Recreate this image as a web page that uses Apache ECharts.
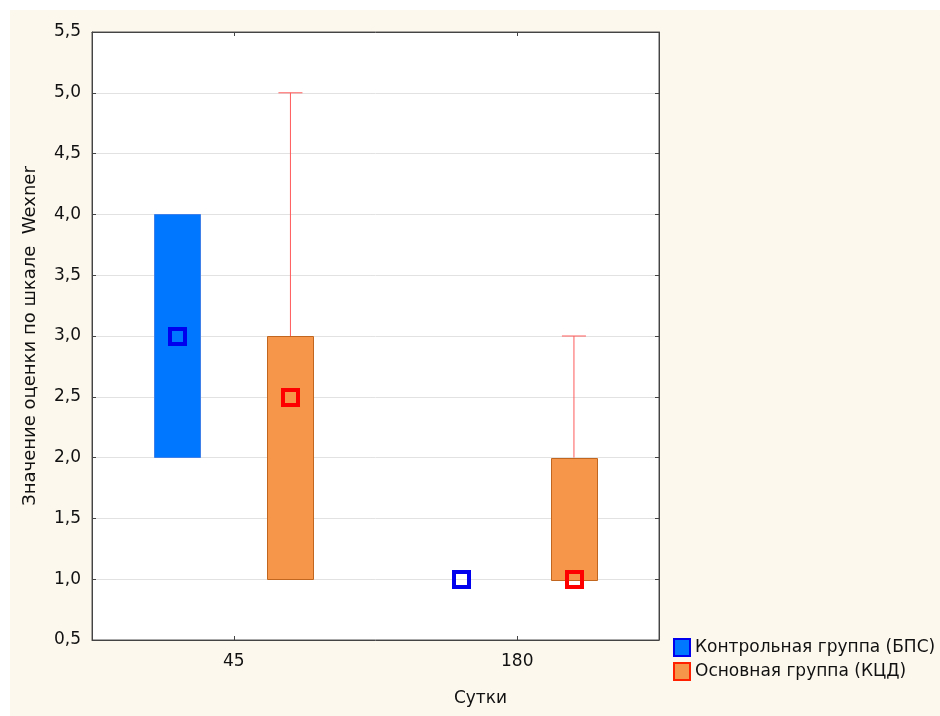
<!DOCTYPE html>
<html>
<head>
<meta charset="utf-8">
<script src="https://cdn.jsdelivr.net/npm/echarts@6/dist/echarts.min.js"></script>
<style>
  html, body { margin: 0; padding: 0; background: #ffffff; }
  #bg { position: absolute; left: 10px; top: 10px; width: 930px; height: 706px; background: #FDF8EE; }
  #c { position: absolute; left: 0; top: 0; width: 940px; height: 716px; }
</style>
</head>
<body>
<div id="bg"></div>
<div id="c"></div>
<script>
// ---- data ----
const categories = ['45', '180'];
const yTicks = [0.5, 1.0, 1.5, 2.0, 2.5, 3.0, 3.5, 4.0, 4.5, 5.0, 5.5];
const seriesNames = ['Контрольная группа (БПС)', 'Основная группа (КЦД)'];
// control group (БПС)
const controlMin    = [2, 1];
const controlQ1     = [2, 1];
const controlMedian = [3, 1];
const controlQ3     = [4, 1];
const controlMax    = [4, 1];
// main group (КЦД)
const mainMin    = [1, 1];
const mainQ1     = [1, 1];
const mainMedian = [2.5, 1];
const mainQ3     = [3, 2];
const mainMax    = [5, 3];

function buildRows(mn, q1, md, q3, mx) {
  return categories.map((c, i) => [i, mn[i], q1[i], md[i], q3[i], mx[i]]);
}

const FONT = '"DejaVu Sans", Verdana, sans-serif';
const FS = 17;

function makeRender(offsetFrac, style) {
  return function (params, api) {
    const idx = api.value(0);
    const band = api.size([1, 0])[0];
    const cx = api.coord([idx, 0])[0] + offsetFrac * band;
    const halfW = band * 0.081;
    const capHalf = 12;
    const yMin = api.coord([idx, api.value(1)])[1];
    const yQ1 = api.coord([idx, api.value(2)])[1];
    const yMed = api.coord([idx, api.value(3)])[1];
    const yQ3 = api.coord([idx, api.value(4)])[1];
    const yMax = api.coord([idx, api.value(5)])[1];
    const children = [];
    const wStyle = { stroke: style.whisker, lineWidth: 1, fill: null };
    if (api.value(5) > api.value(4)) {
      children.push({ type: 'line', shape: { x1: cx, y1: yMax, x2: cx, y2: yQ3 }, style: wStyle });
      children.push({ type: 'line', shape: { x1: cx - capHalf, y1: yMax, x2: cx + capHalf, y2: yMax }, style: wStyle });
    }
    if (api.value(1) < api.value(2)) {
      children.push({ type: 'line', shape: { x1: cx, y1: yMin, x2: cx, y2: yQ1 }, style: wStyle });
      children.push({ type: 'line', shape: { x1: cx - capHalf, y1: yMin, x2: cx + capHalf, y2: yMin }, style: wStyle });
    }
    if (api.value(4) > api.value(2)) {
      children.push({
        type: 'rect',
        shape: { x: Math.round(cx - halfW) + 0.5, y: Math.round(yQ3) + 0.5, width: Math.round(halfW * 2), height: Math.round(yQ1 - yQ3) },
        style: { fill: style.fill, stroke: style.border, lineWidth: 1 }
      });
    }
    children.push({
      type: 'rect',
      shape: { x: Math.round(cx) - 7, y: Math.round(yMed) - 7, width: 15, height: 15 },
      style: { fill: null, stroke: style.marker, lineWidth: 4 }
    });
    return { type: 'group', children: children };
  };
}

const chart = echarts.init(document.getElementById('c'), null, { renderer: 'canvas' });

const yLabelFmt = v => v.toFixed(1).replace('.', ',');

chart.setOption({
  backgroundColor: 'transparent',
  animation: false,
  textStyle: { fontFamily: FONT },
  grid: { left: 92, right: 281, top: 32, bottom: 76, show: true, backgroundColor: '#ffffff', borderColor: '#555555', borderWidth: 1 },
  legend: {
    orient: 'vertical',
    left: 673,
    top: 638,
    padding: 0,
    itemWidth: 16,
    itemHeight: 17,
    itemGap: 5,
    icon: 'rect',
    textStyle: { fontSize: FS, color: '#111111', fontFamily: FONT },
    data: [
      { name: seriesNames[0], itemStyle: { color: '#0077FF', borderColor: '#0000EE', borderWidth: 2 } },
      { name: seriesNames[1], itemStyle: { color: '#F5964A', borderColor: '#FF2000', borderWidth: 2 } }
    ]
  },
  xAxis: [
    {
      type: 'category',
      data: categories,
      position: 'bottom',
      axisLine: { show: true, lineStyle: { color: '#444444' } },
      axisTick: { show: true, inside: true, alignWithLabel: true, length: 4, lineStyle: { color: '#444444' } },
      axisLabel: { fontSize: FS, color: '#111111', margin: 13, fontFamily: FONT },
      name: 'Сутки',
      nameLocation: 'middle',
      nameGap: 50,
      nameTextStyle: { fontSize: FS, color: '#111111', fontFamily: FONT, padding: [0, 0, 0, 210] },
      splitLine: { show: false }
    },
    {
      type: 'category',
      data: categories,
      position: 'top',
      axisLine: { show: true, lineStyle: { color: '#444444' } },
      axisTick: { show: true, inside: true, alignWithLabel: true, length: 4, lineStyle: { color: '#444444' } },
      axisLabel: { show: false },
      splitLine: { show: false }
    }
  ],
  yAxis: [
    {
      type: 'value',
      min: yTicks[0],
      max: yTicks[yTicks.length - 1],
      interval: 0.5,
      axisLine: { show: true, lineStyle: { color: '#444444' } },
      axisTick: { show: true, inside: true, length: 4, lineStyle: { color: '#444444' } },
      axisLabel: { fontSize: FS, color: '#111111', margin: 11, formatter: yLabelFmt, fontFamily: FONT },
      splitLine: { show: true, lineStyle: { color: '#E2E2E2', width: 1 } },
      name: 'Значение оценки по шкале  Wexner',
      nameLocation: 'middle',
      nameRotate: 90,
      nameGap: 53,
      nameTextStyle: { fontSize: 18, color: '#111111', fontFamily: FONT }
    },
    {
      type: 'value',
      position: 'right',
      min: yTicks[0],
      max: yTicks[yTicks.length - 1],
      interval: 0.5,
      axisLine: { show: true, lineStyle: { color: '#444444' } },
      axisTick: { show: true, inside: true, length: 4, lineStyle: { color: '#444444' } },
      axisLabel: { show: false },
      splitLine: { show: false }
    }
  ],
  series: [
    {
      name: seriesNames[0],
      type: 'custom',
      xAxisIndex: 0,
      yAxisIndex: 0,
      itemStyle: { color: '#0077FF' },
      encode: { x: 0, y: [1, 2, 3, 4, 5] },
      data: buildRows(controlMin, controlQ1, controlMedian, controlQ3, controlMax),
      renderItem: makeRender(-0.2, { fill: '#0077FF', border: '#3F7FE8', whisker: '#3355FF', marker: '#0000EE' })
    },
    {
      name: seriesNames[1],
      type: 'custom',
      xAxisIndex: 0,
      yAxisIndex: 0,
      itemStyle: { color: '#F5964A' },
      encode: { x: 0, y: [1, 2, 3, 4, 5] },
      data: buildRows(mainMin, mainQ1, mainMedian, mainQ3, mainMax),
      renderItem: makeRender(0.2, { fill: '#F5964A', border: '#C0661E', whisker: '#FF5A5A', marker: '#FF0000' })
    }
  ]
});
</script>
</body>
</html>
